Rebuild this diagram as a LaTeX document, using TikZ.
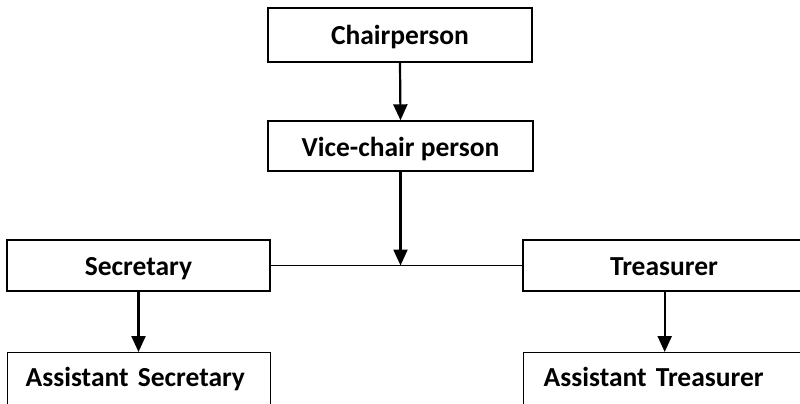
\documentclass[tikz,border=0pt]{standalone}
\usepackage{fontspec}
\setmainfont{Carlito}
\usetikzlibrary{arrows.meta, positioning}
\tikzset{
  post box/.style={
    draw, rectangle, line width=1.4pt, draw=black,
    inner sep=0pt, text height=22pt, text depth=2pt,
    font=\bfseries\fontsize{27.5}{32}\selectfont
  },
  open box/.style={
    post box, anchor=north west, minimum height=56pt,
    text depth=10pt, align=left
  },
  link arrow/.style={
    -{Triangle[length=16pt, width=14pt]}, line width=2.2pt
  },
  link line/.style={
    line width=1.7pt
  },
}
\begin{document}
\begin{tikzpicture}[x=1pt, y=-1pt]

  \clip (0, 0) rectangle (800, 404);

  % Top of the chain
  \node[post box, minimum width=264pt, minimum height=54pt] (chair) at (400, 35) {Chairperson};
  \node[post box, minimum width=265pt, minimum height=50pt] (vice) at (400.5, 146) {Vice-chair person};

  % Second row
  \node[post box, minimum width=263pt, minimum height=51pt] (sec) at (138.5, 265.5) {Secretary};
  \node[post box, minimum width=282pt, minimum height=51pt] (treas) at (664, 265.5) {Treasurer};

  % Assistants, cut off by the page edge
  \node[open box, minimum width=263pt, text width=227pt] (asec) at (7, 352) {Assistant Secretary};
  \node[open box, minimum width=282pt, text width=242pt] (atreas) at (523, 352) {Assistant Treasurer};

  % Connectors
  \coordinate (join) at (vice.south |- sec.east);
  \draw[link arrow] (chair.south) -- (vice.north);
  \draw[link arrow] (vice.south) -- (join);
  \draw[link line] (sec.east) -- (treas.west);
  \draw[link arrow] (sec.south) -- (asec.north -| sec.south);
  \draw[link arrow] (treas.south -| atreas.north) -- (atreas.north);

\end{tikzpicture}
\end{document}
